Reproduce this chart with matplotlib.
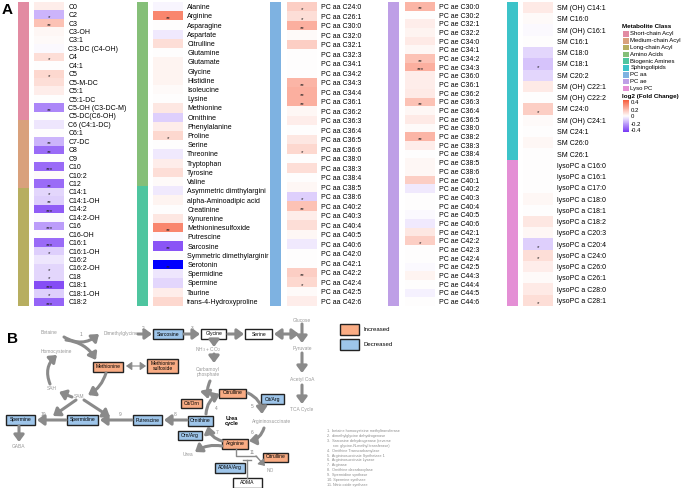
import numpy as np
import matplotlib
matplotlib.use("Agg")
import matplotlib.pyplot as plt
from matplotlib.colors import LinearSegmentedColormap, ListedColormap, Normalize
from matplotlib.patches import Rectangle

plt.rcParams['font.family'] = ['Liberation Sans', 'DejaVu Sans']

W, H = 685, 488

# ---------------- panel A data ----------------
class_names = ["Short-chain Acyl", "Medium-chain Acyl", "Long-chain Acyl", "Amino Acids",
               "Biogenic Amines", "Sphingolipids", "PC aa", "PC ae", "Lyso PC"]
class_colors = ["#E28BA2", "#D9A17C", "#B7AE60", "#85BF78", "#4EC59F", "#3CC3C9",
                "#7EB2E1", "#BE9FE6", "#E48FD5"]

acyl_names = ["C0", "C2", "C3", "C3-OH", "C3:1", "C3-DC (C4-OH)", "C4", "C4:1", "C5", "C5-M-DC",
              "C5:1", "C5:1-DC", "C5-OH (C3-DC-M)", "C5-DC(C6-OH)", "C6 (C4:1-DC)", "C6:1", "C7-DC",
              "C8", "C9", "C10", "C10:2", "C12", "C14:1", "C14:1-OH", "C14:2", "C14:2-OH", "C16",
              "C16-OH", "C16:1", "C16:1-OH", "C16:2", "C16:2-OH", "C18", "C18:1", "C18:1-OH", "C18:2"]
acyl_fc = [0.04, -0.15, 0.15, 0.02, 0.01, -0.01, 0.08, 0.0, 0.1, 0.08,
           0.04, 0.0, -0.25, 0.0, -0.05, 0.0, -0.15,
           -0.3, 0.0, -0.3, 0.01, -0.3, -0.08, -0.1, -0.33, -0.01, -0.2,
           0.0, -0.3, -0.1, -0.05, -0.08, -0.08, -0.36, -0.1, -0.32]
acyl_sig = ["", "*", "**", "", "", "", "*", "", "*", "",
            "", "", "**", "", "", "", "**",
            "**", "", "***", "", "**", "*", "**", "***", "", "***",
            "", "***", "*", "", "*", "*", "***", "*", "***"]
acyl_class = [0] * 14 + [1] * 8 + [2] * 14

amino_names = ["Alanine", "Arginine", "Asparagine", "Aspartate", "Citrulline", "Glutamine",
               "Glutamate", "Glycine", "Histidine", "Isoleucine", "Lysine", "Methionine",
               "Ornithine", "Phenylalanine", "Proline", "Serine", "Threonine", "Tryptophan",
               "Tyrosine", "Valine", "Asymmetric dimthylargini", "alpha-Aminoadipic acid",
               "Creatinine", "Kynurenine", "Methioninesulfoxide", "Putrescine", "Sarcosine",
               "Symmetric dimethylarginir", "Serotonin", "Spermidine", "Spermine", "Taurine",
               "trans-4-Hydroxyproline"]
amino_fc = [-0.02, 0.3, 0.0, -0.04, 0.08, 0.0, 0.03, 0.03, 0.03, 0.01, 0.0, 0.06,
            -0.1, 0.04, 0.1, 0.0, -0.04, 0.04, 0.08, 0.01, -0.04, 0.03,
            0.0, 0.06, 0.3, -0.01, -0.35, 0.0, -1.0, -0.05, -0.08, 0.04, 0.1]
amino_sig = ["", "**", "", "", "", "", "", "", "", "", "", "",
             "", "", "*", "", "", "", "", "", "", "",
             "", "", "**", "", "**", "", "**", "", "", "", ""]
amino_class = [3] * 20 + [4] * 13

pcaa_names = ["PC aa C24:0", "PC aa C26:1", "PC aa C30:0", "PC aa C32:0", "PC aa C32:1",
              "PC aa C32:3", "PC aa C34:1", "PC aa C34:2", "PC aa C34:3", "PC aa C34:4",
              "PC aa C36:1", "PC aa C36:2", "PC aa C36:3", "PC aa C36:4", "PC aa C36:5",
              "PC aa C36:6", "PC aa C38:0", "PC aa C38:3", "PC aa C38:4", "PC aa C38:5",
              "PC aa C38:6", "PC aa C40:2", "PC aa C40:3", "PC aa C40:4", "PC aa C40:5",
              "PC aa C40:6", "PC aa C42:0", "PC aa C42:1", "PC aa C42:2", "PC aa C42:4",
              "PC aa C42:5", "PC aa C42:6"]
pcaa_fc = [0.12, 0.08, 0.2, 0.01, 0.12, 0.0, 0.0, 0.0, 0.18, 0.2,
           0.2, 0.02, 0.04, 0.0, 0.06, 0.1, 0.0, 0.08, 0.0, 0.02,
           -0.1, 0.15, 0.04, 0.08, 0.02, -0.04, 0.0, 0.0, 0.12, 0.1, 0.01, 0.04]
pcaa_sig = ["*", "*", "**", "", "", "", "", "", "**", "**",
            "**", "", "", "", "", "*", "", "", "", "",
            "*", "**", "", "", "", "", "", "", "**", "*", "", ""]
pcaa_class = [6] * 32

pcae_names = ["PC ae C30:0", "PC ae C30:2", "PC ae C32:1", "PC ae C32:2", "PC ae C34:0",
              "PC ae C34:1", "PC ae C34:2", "PC ae C34:3", "PC ae C36:0", "PC ae C36:1",
              "PC ae C36:2", "PC ae C36:3", "PC ae C36:4", "PC ae C36:5", "PC ae C38:0",
              "PC ae C38:2", "PC ae C38:3", "PC ae C38:4", "PC ae C38:5", "PC ae C38:6",
              "PC ae C40:1", "PC ae C40:2", "PC ae C40:3", "PC ae C40:4", "PC ae C40:5",
              "PC ae C40:6", "PC ae C42:1", "PC ae C42:2", "PC ae C42:3", "PC ae C42:4",
              "PC ae C42:5", "PC ae C44:3", "PC ae C44:4", "PC ae C44:5", "PC ae C44:6"]
pcae_fc = [0.18, 0.0, 0.04, 0.03, 0.05, 0.02, 0.15, 0.2, 0.04, 0.04,
           0.05, 0.15, 0.02, 0.05, 0.01, 0.18, 0.04, 0.0, 0.02, 0.02,
           0.12, -0.04, 0.0, 0.0, -0.01, -0.04, 0.06, 0.12, 0.0, 0.0,
           -0.01, 0.03, 0.0, -0.03, 0.0]
pcae_sig = ["**", "", "", "", "", "", "**", "***", "", "",
            "", "**", "", "", "", "**", "", "", "", "",
            "", "", "", "", "", "", "", "*", "", "",
            "", "", "", "", ""]
pcae_class = [7] * 35

sm_names = ["SM (OH) C14:1", "SM C16:0", "SM (OH) C16:1", "SM C16:1", "SM C18:0", "SM C18:1",
            "SM C20:2", "SM (OH) C22:1", "SM (OH) C22:2", "SM C24:0", "SM (OH) C24:1",
            "SM C24:1", "SM C26:0", "SM C26:1", "lysoPC a C16:0", "lysoPC a C16:1",
            "lysoPC a C17:0", "lysoPC a C18:0", "lysoPC a C18:1", "lysoPC a C18:2",
            "lysoPC a C20:3", "lysoPC a C20:4", "lysoPC a C24:0", "lysoPC a C26:0",
            "lysoPC a C26:1", "lysoPC a C28:0", "lysoPC a C28:1"]
sm_fc = [0.05, 0.01, -0.01, 0.0, -0.08, -0.12, -0.08, 0.05, 0.0, 0.12, 0.01, 0.0, 0.02, 0.0,
         0.0, 0.0, 0.0, 0.02, 0.0, 0.06, 0.02, -0.1, 0.08, 0.04, 0.01, 0.05, 0.08]
sm_sig = ["", "", "", "", "", "*", "", "", "", "*", "", "", "", "",
          "", "", "", "", "", "", "", "*", "*", "", "", "", "*"]
sm_class = [5] * 14 + [8] * 13

legend_ticks = [0.4, 0.2, 0, -0.2, -0.4]

# ---------------- panel B data ----------------
boxes = [  # label, cx, cy, w, h, kind
    ("Sarcosine", 168, 334, 30, 10, "dec"),
    ("Glycine", 214, 334, 25, 10, "none"),
    ("Serine", 259, 334, 27, 10, "none"),
    ("Methionine", 108, 366.5, 30, 10, "inc"),
    ("Methionine\nsulfoxide", 163, 366, 31, 14, "inc"),
    ("Cit/Orn", 192, 403.5, 21, 9, "inc"),
    ("Citrulline", 233, 393, 27, 9, "inc"),
    ("Cit/Arg", 273, 399, 23, 10, "dec"),
    ("Spermine", 20.5, 420, 29, 10, "dec"),
    ("Spermidine", 82.5, 420, 31, 10, "dec"),
    ("Putrescine", 147.5, 420, 29, 10, "dec"),
    ("Ornithine", 200.5, 420.5, 25, 10, "dec"),
    ("Orn/Arg", 190, 435.5, 24, 9, "dec"),
    ("Arginine", 235, 443.5, 26, 10, "inc"),
    ("Citrulline", 275.5, 457, 25, 9, "inc"),
    ("ADMA/Arg", 230, 468, 30, 10, "dec"),
    ("ADMA", 247.5, 483, 29, 10, "none"),
]
gray_labels = [
    ("Betaine", 49, 333), ("Dimethylglycine", 121, 334), ("Homocysteine", 56, 351),
    ("SAH", 52, 389), ("SAM", 79, 396), ("NH$_3$ + CO$_2$", 208, 350),
    ("Carbamoyl\nphosphate", 208, 372), ("Glucose", 302, 320), ("Pyruvate", 302, 348.5),
    ("Acetyl CoA", 302, 379), ("TCA Cycle", 302, 410), ("Argininosuccinate", 272, 422),
    ("Urea", 188, 454), ("NO", 270, 471), ("GABA", 19, 447),
]
step_numbers = [("1", 81, 335), ("2", 143, 329), ("3", 192, 329), ("4", 216, 408),
                ("5", 252, 407), ("6", 252, 433), ("7", 217, 433), ("8", 175, 415),
                ("9", 120, 415), ("10", 43, 415), ("11", 252, 453)]
enzymes = ["1.  betaine homocysteine methyltransferase", "2.  dimethylglycine dehydrogenase",
           "3.  Sarcosine dehydrogenase (reverse", "      rxn: glycine-N-methyl transferase)",
           "4.  Ornithine Transcarbamylase", "5.  Argininosuccinate Synthetase 1",
           "6.  Argininosuccinate Lysase", "7.  Arginase", "8.  Ornithine decarboxylase",
           "9.  Spermidine synthase", "10. Spermine synthase", "11. Nitric oxide synthase"]

# ---------------- drawing ----------------
fig = plt.figure(figsize=(W / 100, H / 100), dpi=100)


def px_rect(x, y, w, h):
    return [x / W, 1 - (y + h) / H, w / W, h / H]


cmap = LinearSegmentedColormap.from_list(
    "fc", [(0.0, "#0000FF"), (0.3, "#7A3CF5"), (0.5, "#FFFFFF"), (0.7, "#F8603F"), (1.0, "#E02A10")])
norm = Normalize(-1, 1)
class_cmap = ListedColormap(class_colors)

axB = fig.add_axes([0, 0, 1, 1])
axB.set_xlim(0, W)
axB.set_ylim(H, 0)
axB.axis("off")
axB.text(2, 10, "A", fontsize=11, fontweight="bold", va="center")
axB.text(7, 339, "B", fontsize=11, fontweight="bold", va="center")

columns = [
    (acyl_names, acyl_fc, acyl_sig, acyl_class, 18, 34),
    (amino_names, amino_fc, amino_sig, amino_class, 137, 153),
    (pcaa_names, pcaa_fc, pcaa_sig, pcaa_class, 270, 287),
    (pcae_names, pcae_fc, pcae_sig, pcae_class, 388, 405),
    (sm_names, sm_fc, sm_sig, sm_class, 507, 523),
]
top, bot = 2, 306
for names, fc, sig, cls, bx, cx in columns:
    n = len(names)
    ab = fig.add_axes(px_rect(bx, top, 11, bot - top))
    ab.imshow(np.array(cls).reshape(-1, 1), cmap=class_cmap, vmin=-0.5, vmax=8.5,
              aspect="auto", interpolation="nearest")
    ab.axis("off")
    ah = fig.add_axes(px_rect(cx, top, 30, bot - top))
    ah.imshow(np.array(fc).reshape(-1, 1), cmap=cmap, norm=norm, aspect="auto",
              interpolation="nearest")
    ah.set_xticks([])
    ah.yaxis.tick_right()
    ah.set_yticks(range(n))
    ah.set_yticklabels(names, fontsize=5)
    ah.tick_params(length=0, pad=3)
    for s in ah.spines.values():
        s.set_visible(False)
    for i, s in enumerate(sig):
        if s:
            ah.text(0, i + 0.3, s, ha="center", va="center", fontsize=4.5, color="#222222")

# legend of panel A
axB.text(622, 27, "Metabolite Class", fontsize=4.5, fontweight="bold", va="center")
for k, (nm, col) in enumerate(zip(class_names, class_colors)):
    y = 34 + k * 6.8
    axB.add_patch(Rectangle((623, y - 2.8), 6, 5.6, color=col, lw=0))
    axB.text(630.5, y, nm, fontsize=4.3, va="center")
axB.text(622, 96.5, "log2 (Fold Change)", fontsize=4.5, fontweight="bold", va="center")
acb = fig.add_axes(px_rect(623, 100, 6, 32))
acb.imshow(np.linspace(0.4, -0.4, 50).reshape(-1, 1), cmap=cmap, norm=norm, aspect="auto")
acb.axis("off")
for k, t in enumerate(legend_ticks):
    axB.text(630.5, 103 + k * 7, f"{t:g}", fontsize=4.3, va="center")

# panel B: pathway
GRAY = "#8A8A8A"
fills = {"inc": "#F9AC84", "dec": "#9EC5EA", "none": "#FFFFFF"}
for label, x, y, w, h, kind in boxes:
    axB.add_patch(Rectangle((x - w / 2, y - h / 2), w, h, fc=fills[kind], ec="#222222", lw=1.0))
    axB.text(x, y, label, fontsize=3.6, ha="center", va="center", linespacing=1.0)
for label, x, y in gray_labels:
    axB.text(x, y, label, fontsize=3.5, ha="center", va="center", color="#9A9A9A",
             linespacing=1.1)
for label, x, y in step_numbers:
    axB.text(x, y, label, fontsize=3.5, ha="center", va="center", color="#8A8A8A")
axB.text(232, 421, "Urea\ncycle", fontsize=4, ha="center", va="center", fontweight="bold",
         linespacing=1.1)


def arrow(p0, p1, rad=0.0, lw=2.2, style="-|>", hw=0.3, hl=0.4):
    axB.annotate("", xy=p1, xytext=p0,
                 arrowprops=dict(arrowstyle=f"{style},head_width={hw},head_length={hl}",
                                 lw=lw, color=GRAY, shrinkA=0, shrinkB=0,
                                 connectionstyle=f"arc3,rad={rad}"))


arrow((138, 334), (152, 334))
arrow((184, 334), (200, 334))
arrow((228, 334), (244, 334))
arrow((274, 334), (299, 334), style="<|-|>")
arrow((302, 324), (302, 343))
arrow((302, 353), (302, 373))
arrow((302, 385), (302, 404))
arrow((214, 340), (214, 347))
arrow((214, 354), (214, 363))
arrow((210, 381), (208, 399), rad=0.15)
arrow((64, 337), (99, 334), rad=0.35)
arrow((66, 340), (96, 360), rad=-0.25)
arrow((126, 366), (146, 366), style="<|-|>", lw=0.8, hw=0.25, hl=0.35)
arrow((106, 373), (88, 395), rad=-0.2)
arrow((72, 397), (59, 392))
arrow((50, 384), (57, 355), rad=-0.35)
arrow((76, 400), (53, 416))
arrow((84, 400), (110, 417))
arrow((66, 420), (37, 420))
arrow((132, 420), (100, 420))
arrow((187, 420), (164, 420))
arrow((19, 426), (19, 442))
arrow((206, 414), (220, 394), rad=-0.3)
arrow((248, 393), (262, 414), rad=-0.3)
arrow((264, 428), (249, 441), rad=-0.3)
arrow((222, 441), (208, 426), rad=-0.3)
arrow((222, 446), (195, 452), rad=0.2)
axB.plot([236, 236, 256], [449, 456, 456], color=GRAY, lw=1.0)
arrow((256, 456), (265, 466), lw=1.0, hw=0.25, hl=0.35)
axB.plot([247, 247], [478, 460], color=GRAY, lw=1.0)
axB.plot([243, 251], [460, 460], color=GRAY, lw=1.0)

# legend of panel B
axB.add_patch(Rectangle((340, 324), 19, 11, fc=fills["inc"], ec="#222222", lw=1.0))
axB.add_patch(Rectangle((340, 338.5), 19, 11, fc=fills["dec"], ec="#222222", lw=1.0))
axB.text(364, 329.5, "Increased", fontsize=4.3, va="center")
axB.text(364, 344, "Decreased", fontsize=4.3, va="center")

for k, e in enumerate(enzymes):
    axB.text(327, 431 + k * 4.9, e, fontsize=2.7, va="center", color="#8A8A8A")

fig.savefig("out.png", dpi=100)
